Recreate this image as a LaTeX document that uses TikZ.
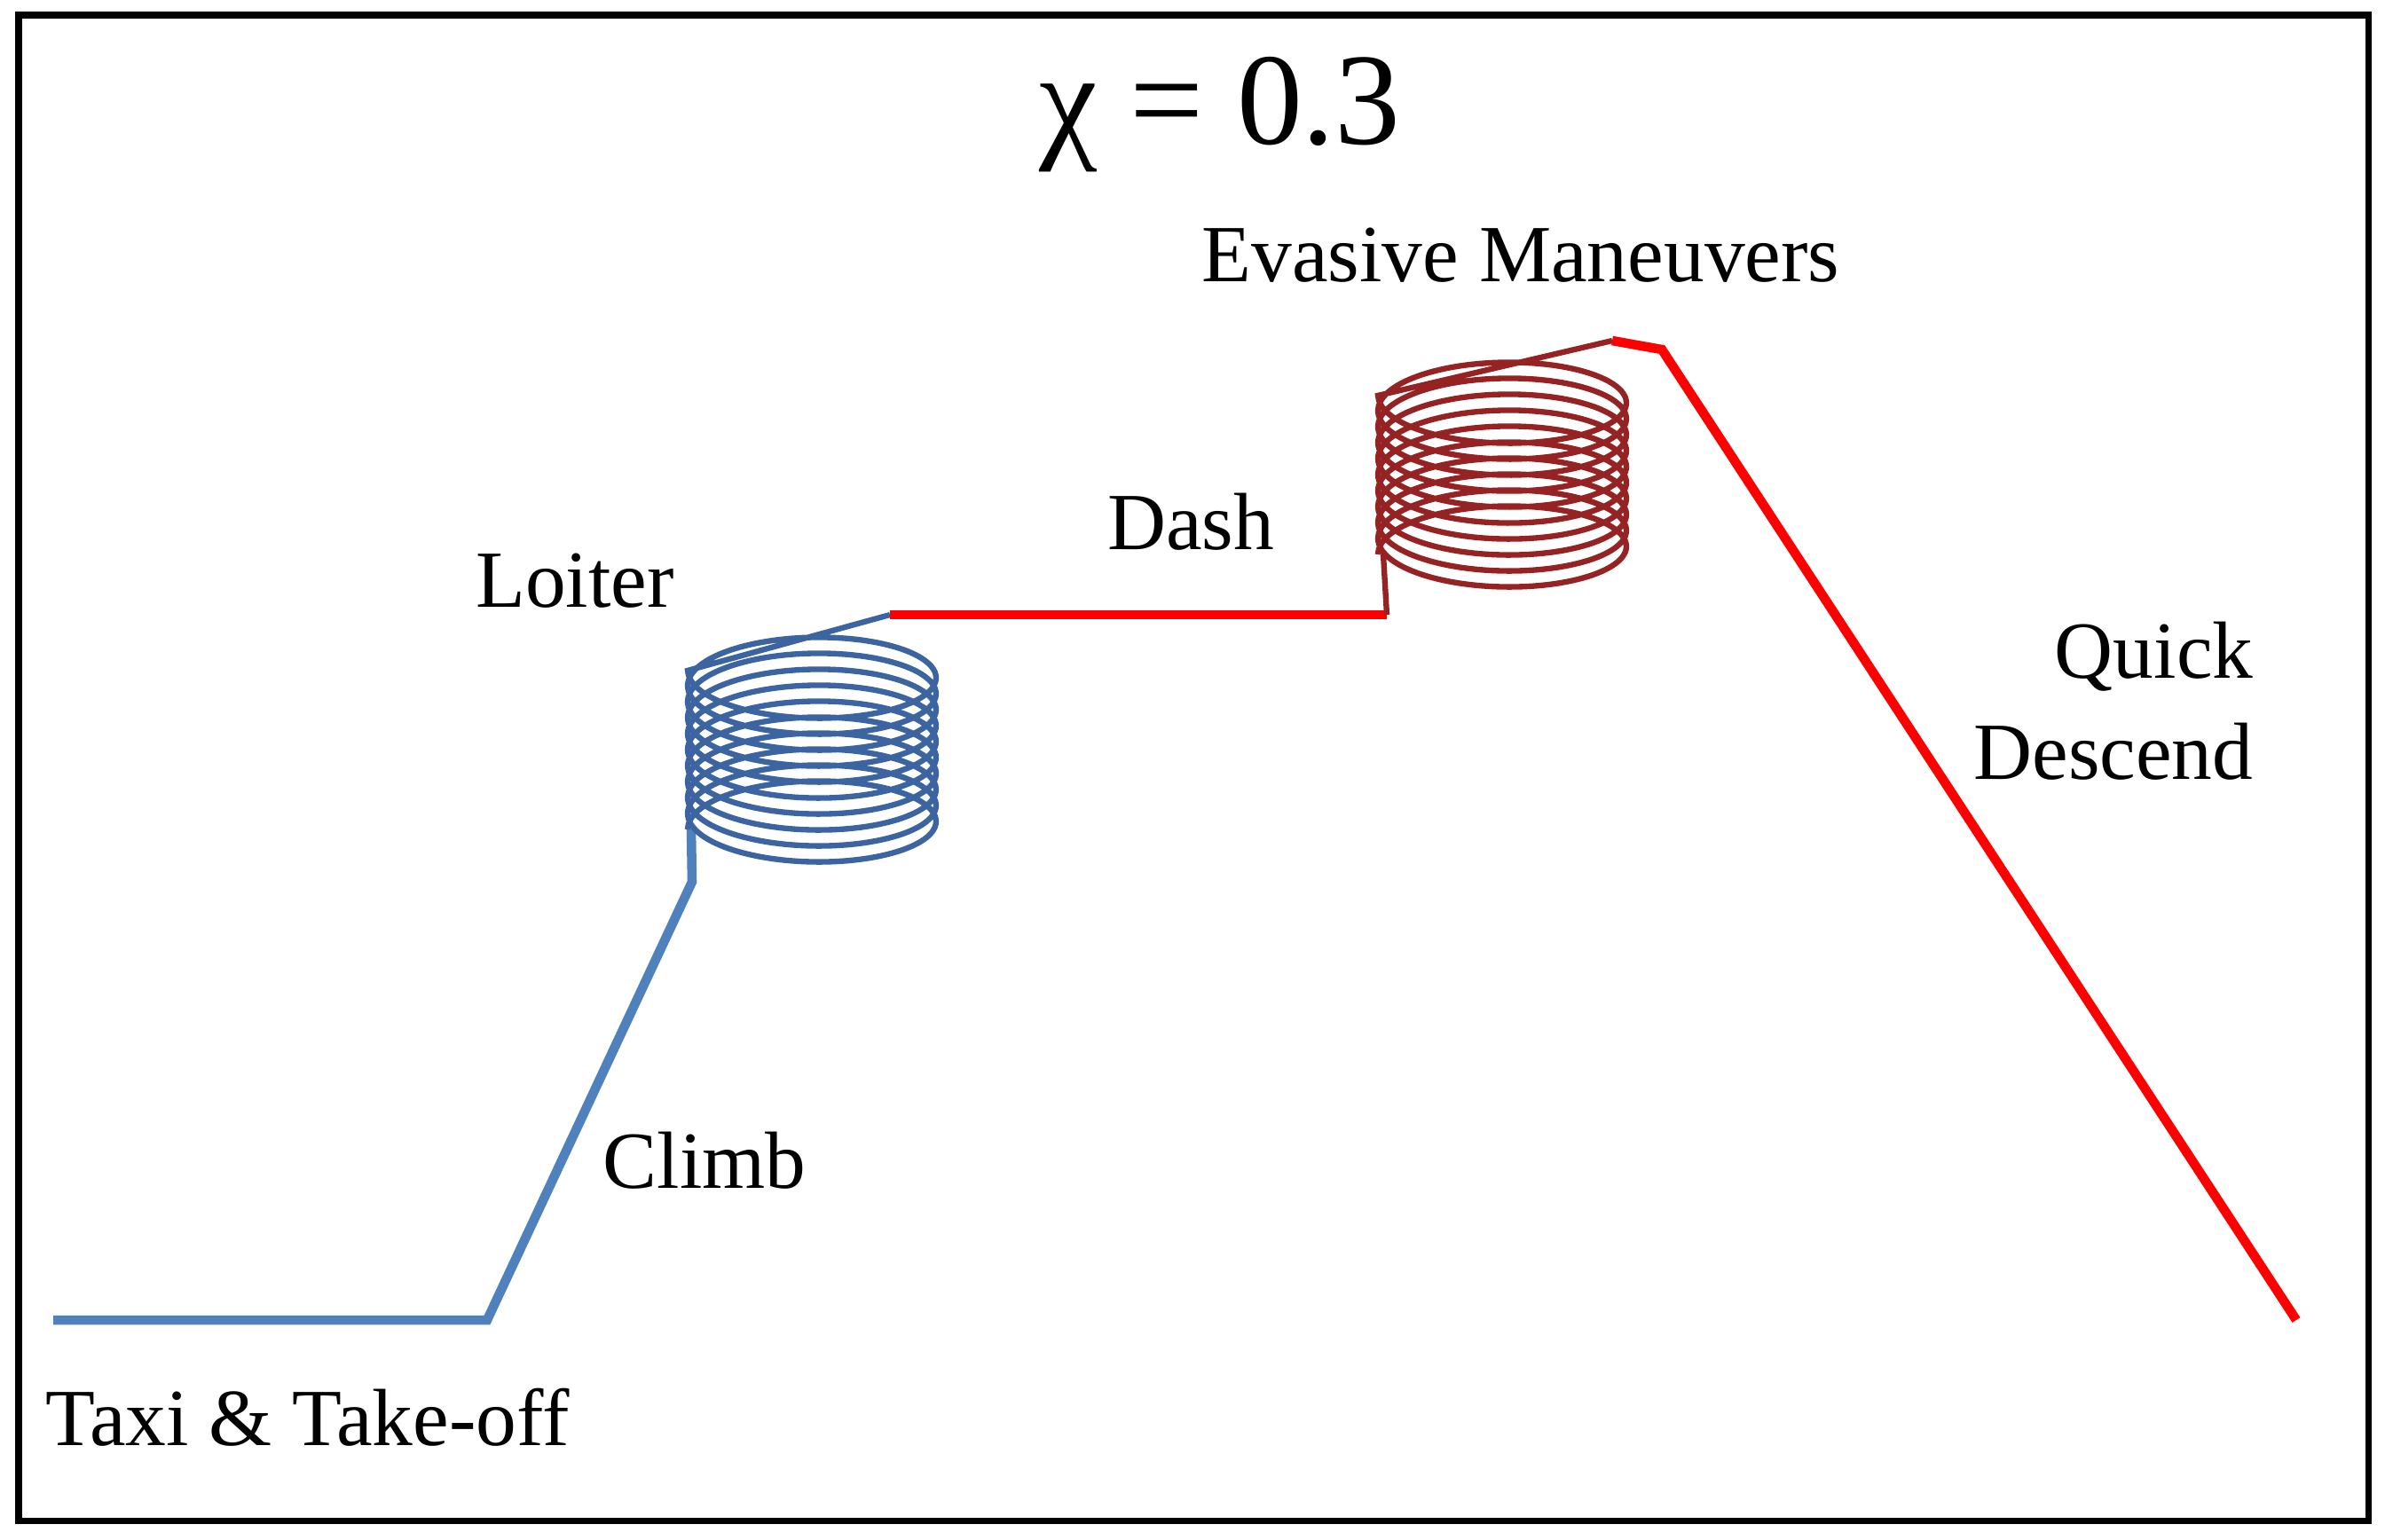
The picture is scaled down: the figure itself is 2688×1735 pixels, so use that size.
\documentclass[tikz,border=0pt]{standalone}
\usepackage{fontspec}
\setmainfont{Liberation Serif}
\begin{document}
\begin{tikzpicture}[x=0.01cm,y=-0.01cm,
  lbl/.style={font=\fontsize{26}{31}\selectfont,inner sep=0pt},
  coil/.style={line width=1.8pt}]
\definecolor{climbblue}{RGB}{79,129,189}
\definecolor{coilblue}{RGB}{60,100,160}
\definecolor{coilred}{RGB}{150,35,35}
\useasboundingbox (0,0) rectangle (2688,1735);
\draw[line width=2pt] (21,17) rectangle (2669,1714);
% coordinates
\coordinate (t0) at (60,1488);
\coordinate (t1) at (549,1488);
\coordinate (c1) at (780,994);
\coordinate (b0) at (779,935);
\coordinate (bx) at (1003,693);
\coordinate (d1) at (1563,693);
\coordinate (r0) at (1559,625);
\coordinate (rx) at (1817,384);
\coordinate (r2) at (1873,394);
\coordinate (r3) at (2588,1488);
% taxi and climb
\draw[climbblue,line width=3pt] (t0) -- (t1) -- (c1) -- (b0);
% blue coil
\draw[coilblue,coil] plot[domain=0:10,samples=500,smooth]
  ({915-140*cos(\x*360)},{935-18*\x-50*sin(\x*360)}) -- (bx);
% dash
\draw[red,line width=3pt] (bx) -- (d1);
\draw[coilred,line width=1.8pt] (d1) -- (r0);
% red coil
\draw[coilred,coil] plot[domain=0:10,samples=500,smooth]
  ({1693-140*cos(\x*360)},{625-18*\x-50*sin(\x*360)}) -- (rx);
\draw[red,line width=3pt] (rx) -- (r2) -- (r3);
% labels
\node[font=\fontsize{42}{48}\selectfont,inner sep=0pt] (title) at (1375,129) {χ = 0.3};
\node[lbl] (ev) at (1714,288) {Evasive Maneuvers};
\node[lbl] (dash) at (1342,588) {Dash};
\node[lbl] (loit) at (648,655) {Loiter};
\node[lbl,anchor=east] (qd1) at (2540,740) {Quick};
\node[lbl,anchor=east] (qd2) at (2540,847) {Descend};
\node[lbl] (climb) at (794,1308) {Climb};
\node[lbl,anchor=west] (taxi) at (51,1598) {Taxi \& Take-off};
\end{tikzpicture}
\end{document}
